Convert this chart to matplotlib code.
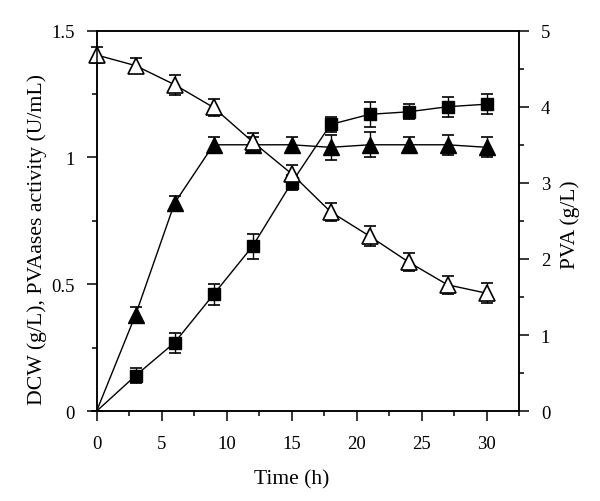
import matplotlib.pyplot as plt
import numpy as np
from matplotlib.ticker import MultipleLocator

plt.rcParams['font.family'] = 'Liberation Serif'
plt.rcParams['font.size'] = 13.5

time = [0, 3, 6, 9, 12, 15, 18, 21, 24, 27, 30]

dcw     = [0.0, 0.14, 0.27, 0.46, 0.65, 0.90, 1.13, 1.17, 1.18, 1.20, 1.21]
dcw_err = [0.0, 0.03, 0.04, 0.04, 0.05, 0.03, 0.03, 0.05, 0.03, 0.04, 0.04]

pvaase     = [0.0, 0.38, 0.82, 1.05, 1.05, 1.05, 1.04, 1.05, 1.05, 1.05, 1.04]
pvaase_err = [0.0, 0.03, 0.03, 0.03, 0.03, 0.03, 0.05, 0.05, 0.03, 0.04, 0.04]

pva     = [4.68, 4.54, 4.29, 3.99, 3.54, 3.12, 2.62, 2.30, 1.96, 1.66, 1.55]
pva_err = [0.10, 0.10, 0.13, 0.11, 0.12, 0.12, 0.12, 0.13, 0.12, 0.12, 0.13]

x_ticks  = [0, 5, 10, 15, 20, 25, 30]
y1_ticks = [0, 0.5, 1, 1.5]
y1_labels = ['0', '0.5', '1', '1.5']
y2_ticks = [0, 1, 2, 3, 4, 5]

fig = plt.figure(figsize=(6, 5.02), dpi=100)
ax = fig.add_axes([0.161, 0.179, 0.704, 0.758])
ax2 = ax.twinx()

err_kw = dict(color='k', ecolor='k', elinewidth=1.0, capsize=4, capthick=1.2,
              linewidth=1.0, clip_on=False)

# no marker at the origin for the two growing series
ax.errorbar(time, dcw, yerr=dcw_err, fmt='-s', markersize=8.5, markevery=slice(1, None),
            markerfacecolor='k', markeredgecolor='k', **err_kw)
ax.errorbar(time, pvaase, yerr=pvaase_err, fmt='-^', markersize=11, markevery=slice(1, None),
            markerfacecolor='k', markeredgecolor='k', **err_kw)
ax2.errorbar(time, pva, yerr=pva_err, fmt='-^', markersize=11,
             markerfacecolor='white', markeredgecolor='k', markeredgewidth=1.2, **err_kw)

ax.set_xlim(0, 32.5)
ax.set_ylim(0, 1.5)
ax2.set_ylim(0, 5)

ax.set_xticks(x_ticks)
ax.set_yticks(y1_ticks)
ax.set_yticklabels(y1_labels)
ax2.set_yticks(y2_ticks)
ax.xaxis.set_minor_locator(MultipleLocator(2.5))
ax.yaxis.set_minor_locator(MultipleLocator(0.25))
ax2.yaxis.set_minor_locator(MultipleLocator(0.5))

for a in (ax, ax2):
    a.tick_params(which='major', direction='out', length=7.2, width=1.1, pad=8.5)
    a.tick_params(which='minor', direction='out', length=3.5, width=1.1)
    for s in a.spines.values():
        s.set_linewidth(1.1)
ax.tick_params(axis='x', which='both', top=False)
ax.tick_params(axis='x', which='major', pad=10)

ax.set_xlabel('Time (h)', fontsize=15.5)
ax.xaxis.set_label_coords(0.4615, -0.152)
ax.set_ylabel('DCW (g/L), PVAases activity (U/mL)', fontsize=15.7)
ax.yaxis.set_label_coords(-0.117, 0.455)
ax2.set_ylabel('PVA (g/L)', fontsize=15.5)
ax2.yaxis.set_label_coords(1.097, 0.493)

fig.savefig('out.png', dpi=100)
